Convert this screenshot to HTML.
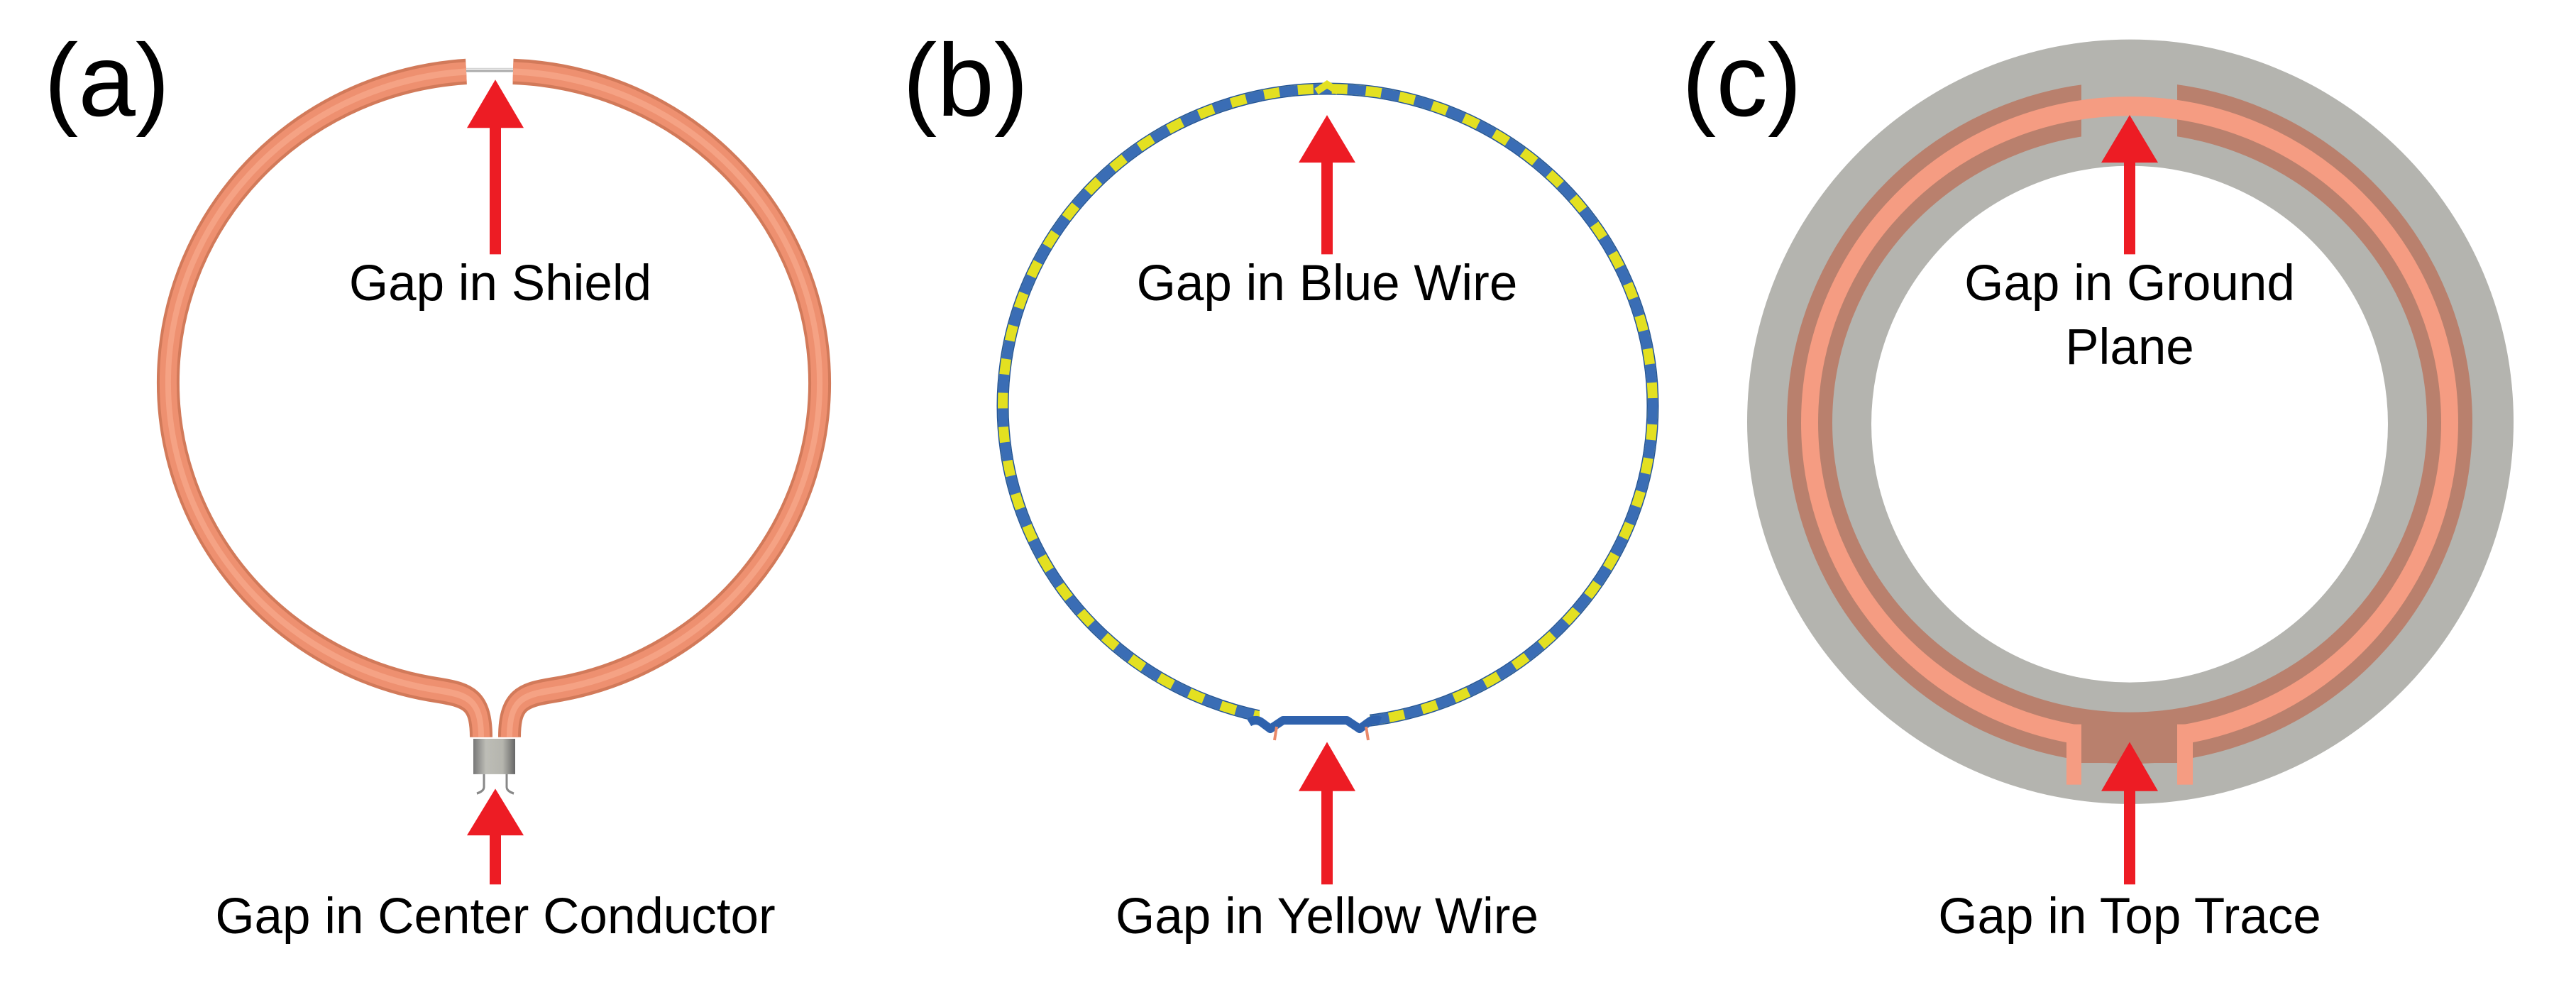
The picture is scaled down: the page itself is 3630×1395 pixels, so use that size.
<!DOCTYPE html>
<html><head><meta charset="utf-8"><style>
html,body{margin:0;padding:0;background:#fff;}
svg{display:block;}
text{font-family:"Liberation Sans",Arial,sans-serif;fill:#000;}
</style></head><body>
<svg width="3630" height="1395" viewBox="0 0 3630 1395" xmlns="http://www.w3.org/2000/svg">
<defs>
<linearGradient id="box" x1="0" x2="1" y1="0" y2="0">
<stop offset="0" stop-color="#777"/><stop offset="0.3" stop-color="#bdbdb6"/><stop offset="0.7" stop-color="#b5b5ae"/><stop offset="1" stop-color="#666"/>
</linearGradient>
</defs>
<g font-size="145">
<text x="62" y="163">(a)</text>
<text x="1272" y="163">(b)</text>
<text x="2370" y="163">(c)</text>
</g>

<g transform="scale(1,1.134)">
<line x1="657" y1="87" x2="723" y2="87" stroke="#aaa" stroke-width="5"/>
<line x1="657" y1="86" x2="723" y2="86" stroke="#eee" stroke-width="2"/>
<g fill="none">
<path d="M657 89 A449 387 0 0 0 620 858 C660 864 678 870 678 916 M723 89 A449 387 0 0 1 776 858 C736 864 718 870 718 916" stroke="#d27a5a" stroke-width="32"/>
<path d="M657 89 A449 387 0 0 0 620 858 C660 864 678 870 678 916 M723 89 A449 387 0 0 1 776 858 C736 864 718 870 718 916" stroke="#ee9070" stroke-width="24"/>
<path d="M657 89 A449 387 0 0 0 620 858 C660 864 678 870 678 916 M723 89 A449 387 0 0 1 776 858 C736 864 718 870 718 916" stroke="#f5a284" stroke-width="8"/>
</g>
<rect x="667" y="918" width="59" height="44" fill="url(#box)"/>
<path d="M682 962 V978 Q682 983 672 986 M714 962 V978 Q714 983 724 986" stroke="#888" stroke-width="3" fill="none"/>

<ellipse cx="3002" cy="524" rx="540" ry="475" fill="#b4b4af"/>
<ellipse cx="3001" cy="527" rx="364" ry="321" fill="#fff"/>
<ellipse cx="3001" cy="525" rx="451" ry="392" fill="none" stroke="#b9806d" stroke-width="64"/>
<rect x="2933" y="90" width="135" height="80" fill="#b4b4af"/>
<ellipse cx="3001" cy="525" rx="451" ry="393" fill="none" stroke="#f59c82" stroke-width="24"/>
<rect x="2933" y="895" width="135" height="53" fill="#b9806d"/>
<rect x="2912" y="900" width="21" height="75" fill="#f59c82"/>
<rect x="3068" y="900" width="22" height="75" fill="#f59c82"/>

<g fill="#ed1c24">
<polygon points="698,99 658,159 738,159"/><rect x="690" y="158" width="16" height="158"/>
<polygon points="698,980 658,1038 738,1038"/><rect x="690" y="1037" width="16" height="62"/>
<polygon points="1870,143 1830,202 1910,202"/><rect x="1862" y="201" width="16" height="115"/>
<polygon points="1870,922 1830,983 1910,983"/><rect x="1862" y="982" width="16" height="117"/>
<polygon points="3001,143 2961,202 3041,202"/><rect x="2993" y="201" width="16" height="115"/>
<polygon points="3001,922 2961,983 3041,983"/><rect x="2993" y="982" width="16" height="117"/>
</g>
</g>

<g fill="none">
<ellipse cx="1871" cy="572" rx="458" ry="447" stroke="#24559a" stroke-width="17"/>
<ellipse cx="1871" cy="572" rx="458" ry="447" stroke="#e3e021" stroke-width="14"/>
<ellipse cx="1871" cy="572" rx="458" ry="447" stroke="#3a6db5" stroke-width="14" stroke-dasharray="26 22"/>
</g>
<rect x="1775" y="1000" width="155" height="35" fill="#fff"/>
<path d="M1760 1018 Q1770 1012 1778 1018 L1790 1027 L1808 1015 L1898 1015 L1916 1027 L1928 1018 Q1935 1012 1945 1016" stroke="#2f62ad" stroke-width="12" fill="none" stroke-linejoin="round"/>
<path d="M1799 1024 L1796 1043 M1925 1024 L1928 1043" stroke="#e8896a" stroke-width="4"/>
<path d="M1855 129 L1870 119 L1886 129" stroke="#e3e021" stroke-width="10" fill="none"/>

<g font-size="71" text-anchor="middle">
<text x="705" y="423">Gap in Shield</text>
<text x="698" y="1315">Gap in Center Conductor</text>
<text x="1870" y="423">Gap in Blue Wire</text>
<text x="1870" y="1315">Gap in Yellow Wire</text>
<text x="3001" y="423">Gap in Ground</text>
<text x="3001" y="513">Plane</text>
<text x="3001" y="1315">Gap in Top Trace</text>
</g>
</svg>
</body></html>
